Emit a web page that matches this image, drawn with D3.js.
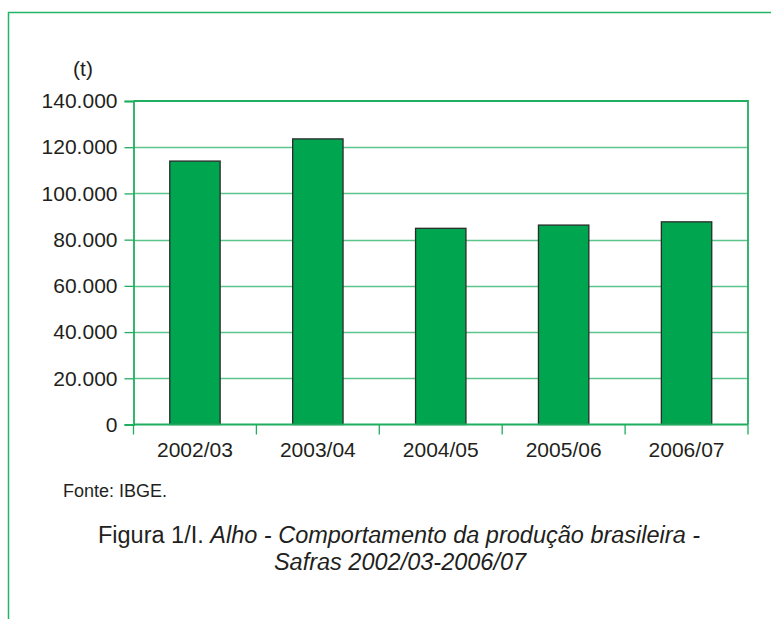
<!DOCTYPE html>
<html>
<head>
<meta charset="utf-8">
<script src="https://cdn.jsdelivr.net/npm/d3@7"></script>
<style>
  body { margin: 0; background: #fff; }
  text { font-family: "Liberation Sans", Arial, sans-serif; fill: #231f20; }
</style>
</head>
<body>
<div id="chart"></div>
<script>
// safras e producao (t)
const safras = ["2002/03", "2003/04", "2004/05", "2005/06", "2006/07"];
const producao = [114000, 123600, 84900, 86300, 87700];
const yTicks = [0, 20000, 40000, 60000, 80000, 100000, 120000, 140000];

const W = 771, H = 619;
const plot = {left: 133.5, right: 748, top: 101, bottom: 424.5};
const green = "#1fae5f";

let svg = d3.select("#chart").append("svg")
    .attr("width", W)
    .attr("height", H);

// moldura externa
svg.append("path")
    .attr("d", `M8.5,${H} V12.5 H${W}`)
    .attr("fill", "none")
    .attr("stroke", "#22b565")
    .attr("stroke-width", 1.5);

let x = d3.scaleBand()
    .domain(safras)
    .range([plot.left, plot.right])
    .paddingInner(0.59)
    .paddingOuter(0.295);

let y = d3.scaleLinear()
    .domain([0, 140000])
    .range([plot.bottom, plot.top]);

const fmt = v => v === 0 ? "0" : d3.format(",")(v).replace(/,/g, ".");

// grade horizontal
svg.append("g")
  .selectAll("line")
  .data(yTicks.filter(d => d > 0 && d < 140000))
  .join("line")
    .attr("x1", plot.left)
    .attr("x2", plot.right)
    .attr("y1", d => Math.round(y(d)) + 0.5)
    .attr("y2", d => Math.round(y(d)) + 0.5)
    .attr("stroke", "#5cc58c")
    .attr("stroke-width", 1.3);

// barras
svg.append("g")
  .selectAll("rect")
  .data(producao)
  .join("rect")
    .attr("x", (d, i) => x(safras[i]))
    .attr("y", d => y(d))
    .attr("width", x.bandwidth())
    .attr("height", d => y(0) - y(d))
    .attr("fill", "#00a54f")
    .attr("stroke", "#2b2b2b")
    .attr("stroke-width", 1.3);

// moldura da area do grafico (topo e direita)
svg.append("path")
    .attr("d", `M${plot.left},${plot.top} H${plot.right} V${plot.bottom}`)
    .attr("fill", "none")
    .attr("stroke", green)
    .attr("stroke-width", 1.8);

// eixo y
let yAxis = svg.append("g")
    .attr("transform", `translate(${plot.left},0)`)
    .call(d3.axisLeft(y).tickValues(yTicks).tickFormat(fmt).tickSize(9).tickPadding(7));
yAxis.select(".domain").attr("stroke", green).attr("stroke-width", 1.8);
yAxis.selectAll(".tick line").attr("stroke", green).attr("stroke-width", 1.3);
yAxis.selectAll(".tick text")
    .style("font-family", "Liberation Sans, Arial, sans-serif")
    .style("font-size", "21px")
    .attr("fill", "#231f20");

// eixo x
let xAxis = svg.append("g")
    .attr("transform", `translate(0,${plot.bottom})`);
xAxis.append("line")
    .attr("x1", plot.left).attr("x2", plot.right)
    .attr("stroke", green).attr("stroke-width", 1.8);
let bounds = d3.range(safras.length + 1).map(i => plot.left + i * x.step());
xAxis.selectAll("line.tk")
  .data(bounds)
  .join("line")
    .attr("class", "tk")
    .attr("x1", d => d).attr("x2", d => d)
    .attr("y1", 0).attr("y2", 10)
    .attr("stroke", green).attr("stroke-width", 1.3);
xAxis.selectAll("text")
  .data(safras)
  .join("text")
    .attr("x", d => x(d) + x.bandwidth() / 2)
    .attr("y", 32)
    .attr("text-anchor", "middle")
    .style("font-size", "21px")
    .text(d => d);

// unidade
svg.append("text")
    .attr("x", 83)
    .attr("y", 76)
    .attr("text-anchor", "middle")
    .style("font-size", "21px")
    .text("(t)");

// fonte
svg.append("text")
    .attr("x", 63)
    .attr("y", 497)
    .style("font-size", "18px")
    .text("Fonte: IBGE.");

// legenda da figura
let cap = svg.append("text")
    .attr("x", 399)
    .attr("y", 543)
    .attr("text-anchor", "middle")
    .style("font-size", "23.5px");
cap.append("tspan").text("Figura 1/I. ");
cap.append("tspan").style("font-style", "italic")
    .text("Alho - Comportamento da produção brasileira -");
svg.append("text")
    .attr("x", 400)
    .attr("y", 570)
    .attr("text-anchor", "middle")
    .style("font-size", "23.5px")
    .style("font-style", "italic")
    .text("Safras 2002/03-2006/07");
</script>
</body>
</html>
